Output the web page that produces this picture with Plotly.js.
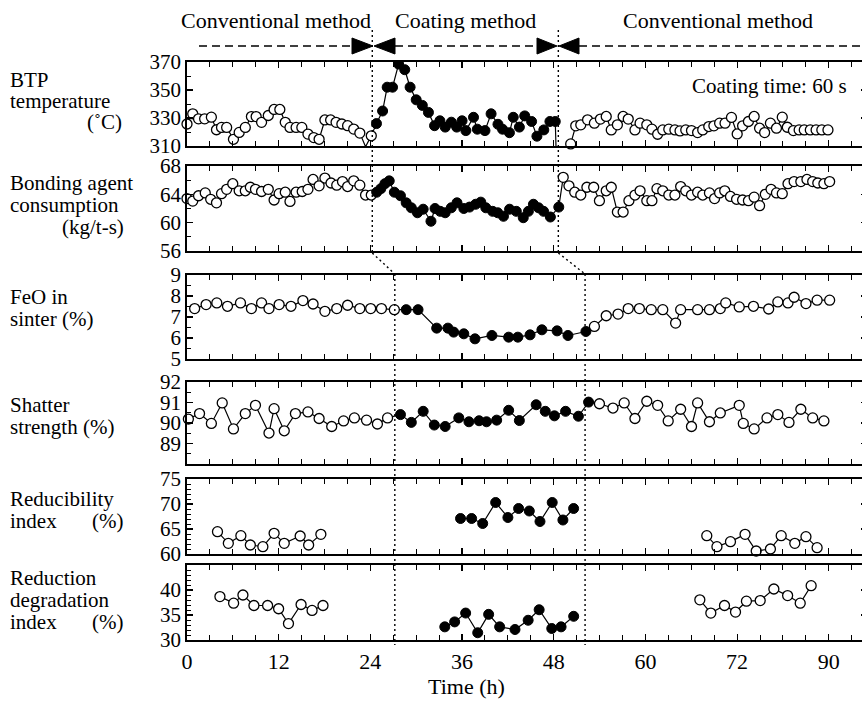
<!DOCTYPE html>
<html><head><meta charset="utf-8">
<script src="https://cdn.plot.ly/plotly-3.0.1.min.js"></script>
<style>html,body{margin:0;padding:0;overflow:hidden;background:#fff}#chart{width:870px;height:706px}</style>
</head><body><div id="chart"></div><script>
// ---------------- DATA ----------------
// BTP temperature (°C)
const btpT_A = [0,0.75,1.51,2.31,3.19,3.86,4.52,5.19,6.08,6.83,7.63,8.43,9.05,9.76,10.64,11.4,12.15,12.86,13.48,14.28,15.03,15.83,16.59,17.29,18.05,18.8,19.51,20.27,21.02,21.82,22.62,23.37,24.12];
const btpV_A = [325.7,333,329.4,329.4,330.6,321.6,323.3,323.3,314.8,319.7,323.3,331,331,326.9,331.8,336.1,336.1,326.9,323.3,323.3,323.3,318.5,316,314.8,328.6,328.6,326.9,325.7,324.5,322.1,319.2,309.5,317.3];
const btpT_C = [24.8,25.6,26.2,26.9,27.7,28.5,29.2,30.0,30.8,31.6,32.4,33.1,33.8,34.6,35.3,36.0,36.5,37.5,38.0,39.0,39.8,40.7,41.3,42.2,42.7,43.5,44.2,45.1,45.8,46.7,47.5,48.2,48.4];
const btpV_C = [326,335,352,352,368.5,364.5,352,343,339,334,324.5,328,323.5,327,323.5,328,321,330.5,322,321,333,325.5,322,319.5,330.5,323.5,331.5,327.5,317,321.5,327.5,327.5,290];
const btpT_B = [50.22,50.88,51.54,52.43,53.32,54.11,54.87,55.53,56.33,57.08,57.75,58.63,59.3,60.18,60.85,61.6,62.27,63.06,63.86,64.53,65.28,66.03,66.83,67.5,68.29,68.96,69.71,70.42,71.26,72.01,72.72,73.48,74.23,74.94,75.6,76.36,77.15,77.91,78.57,79.37,80.12,80.79,81.58,82.34,83.09,83.89];
const btpV_B = [311.5,324.4,325.1,328.7,326.3,329.2,331.1,321.5,325.1,331.1,329.2,321.5,326.3,325.1,322,318.4,321.5,322,321.5,320.8,321.5,321,319.6,321.5,323.9,324.4,326.3,326.3,330.4,318.6,324.4,327.5,331.1,322.7,319.6,326.3,322.7,330.6,323.4,321,321.5,321.5,321.5,321.5,321.5,321.5];

// Bonding agent consumption (kg/t-s)
const bndT_A = [0,0.75,1.51,2.39,3.1,3.86,4.52,5.19,5.99,6.83,7.63,8.29,8.96,9.76,10.64,11.4,12.06,12.86,13.48,14.28,15.08,15.83,16.5,17.29,18.05,18.85,19.6,20.35,21.02,21.82,22.62,23.37,24.12];
const bndV_A = [63.4,63.05,63.8,64.2,63.3,62.8,64.1,64.7,65.5,64.5,64.5,65.0,64.7,64.4,64.7,63.2,64.1,64.3,63.0,64.3,64.4,64.7,66.1,65.2,66.3,65.6,65.3,65.8,65.1,65.9,65.3,63.9,63.9];
const bndT_C = [24.83,25.37,25.9,26.47,27.14,27.94,28.69,29.36,30.16,30.91,31.93,32.46,33.13,33.79,34.59,35.34,36.23,36.98,37.78,38.45,39.11,40.0,40.67,41.42,42.22,43.1,44.01,44.68,45.34,46.01,46.67,47.56,48.66];
const bndV_C = [64.3,64.8,65.5,65.9,64.3,63.8,62.8,62.1,61.4,61.9,60.2,62.0,61.6,61.4,62.1,62.8,62.0,62.2,62.6,62.9,62.1,61.6,61.4,60.9,61.9,61.6,60.7,61.6,62.6,62.1,61.6,60.8,62.2];
const bndT_B = [49.24,49.99,50.75,51.54,52.34,53.23,53.98,54.87,55.53,56.33,57.08,57.84,58.63,59.3,60.18,60.85,61.51,62.27,63.06,63.86,64.61,65.28,66.03,66.83,67.5,68.38,69.05,69.71,70.38,71.13,71.93,72.72,73.48,74.23,74.94,75.69,76.44,77.15,77.91,78.66,79.46,80.34,81.14,81.89,82.56,83.36,84.11];
const bndV_B = [66.4,65.2,64.3,63.9,65.0,65.0,63.1,64.5,65.0,61.5,61.5,63.1,63.9,64.5,63.1,63.1,64.8,64.5,63.9,63.9,65.1,64.5,63.9,64.3,63.9,64.2,63.4,64.2,64.5,63.7,63.3,63.2,63.1,63.6,62.4,64.0,64.7,64.2,64.1,65.5,65.8,65.8,66.1,65.8,65.6,65.5,65.8];

// FeO in sinter (%)
const feoT_A = [1.0,2.5,3.9,5.3,7.0,8.43,9.76,10.73,12.06,13.61,15.17,16.5,18.05,19.6,21.02,22.62,24.04,25.45,27.14];
const feoV_A = [7.4,7.59,7.67,7.51,7.67,7.4,7.67,7.4,7.59,7.51,7.78,7.62,7.27,7.4,7.56,7.4,7.4,7.4,7.35];
const feoT_C = [28.69,30.24,32.68,34.15,34.9,36.23,37.69,39.91,42.1,43.3,44.9,46.45,48.44,49.86,52.21];
const feoV_C = [7.35,7.35,6.47,6.47,6.28,6.2,5.96,6.12,6.04,6.04,6.15,6.39,6.34,6.12,6.31];
const feoT_B = [53.32,54.87,56.42,57.75,59.21,60.76,62.27,63.95,64.61,66.83,68.38,69.8,70.51,72.28,74.14,76.13,77.33,78.66,79.46,81.01,82.47,84.11];
const feoV_B = [6.55,7.06,7.14,7.4,7.4,7.35,7.35,6.71,7.35,7.35,7.35,7.4,7.67,7.48,7.51,7.38,7.72,7.67,7.94,7.64,7.8,7.8];

// Shatter strength (%)
const shT_A = [0.18,1.64,3.19,4.61,6.08,7.63,8.96,10.73,11.4,12.73,14.19,15.83,17.29,18.94,20.49,21.91,23.5,24.92,26.25];
const shV_A = [90.19,90.46,89.98,90.98,89.71,90.46,90.86,89.51,90.7,89.62,90.46,90.54,90.22,89.83,90.1,90.25,90.14,89.95,90.25];
const shT_C = [27.94,29.36,30.91,32.37,33.79,35.57,36.9,38.23,39.2,40.53,42.1,43.5,45.7,46.89,48.09,49.55,51.23,52.56];
const shV_C = [90.41,90.03,90.57,89.9,89.83,90.25,90.06,90.11,90.06,90.14,90.62,90.12,90.89,90.57,90.35,90.57,90.33,91.02];
const shT_B = [53.98,55.75,57.22,58.63,60.18,61.6,62.98,64.61,66.03,66.83,68.38,69.8,72.28,72.81,74.23,75.91,77.33,78.79,80.34,81.89,83.36];
const shV_B = [90.94,90.73,90.98,90.22,91.06,90.86,90.1,90.67,89.83,90.98,90.06,90.49,90.86,89.98,89.71,90.25,90.41,90.03,90.67,90.25,90.1];

// Reducibility index (%)
const rdT_A = [3.99,5.41,7.05,8.29,9.93,11.4,12.73,14.81,15.92,17.52];
const rdV_A = [64.47,62.13,63.67,61.8,61.47,64.13,62.13,63.6,61.8,63.93];
const rdT_C = [35.8,37.25,38.7,40.4,42.0,43.4,44.8,46.2,47.8,49.2,50.6];
const rdV_C = [67.1,67.1,66.1,70.3,67.3,69.1,68.6,66.5,70.3,66.8,69.1];
const rdT_B = [68.03,69.36,71.13,73.04,74.5,76.36,77.77,79.55,81.01,82.47];
const rdV_B = [63.67,61.47,62.47,63.93,60.6,61.0,63.67,62.13,63.47,61.27];

// Reduction degradation index (%)
const rdiT_A = [4.31,6.1,7.32,8.76,10.55,11.99,13.28,14.93,16.37,17.8];
const rdiV_A = [38.68,37.37,39.0,36.9,36.9,36.25,33.29,37.1,35.92,36.9];
const rdiT_C = [33.74,35.03,36.47,38.05,39.48,40.92,42.93,44.65,46.09,47.74,48.96,50.61];
const rdiV_C = [32.63,33.62,35.39,31.45,35.13,32.63,32.1,33.95,36.05,32.3,32.63,34.74];
const rdiT_B = [67.12,68.56,70.35,71.79,73.22,75.02,76.81,78.61,80.26,81.69];
const rdiV_B = [38.03,35.39,36.9,35.59,37.76,37.89,40.2,38.88,37.37,40.86];

// axis tick labels
const xTickAlias = {'84':'90'};
const topLabels = ['Conventional method','Coating method','Conventional method'];

// ---------------- BUILD ----------------
const W = 870, H = 706, L = 187, R = 3;
const PW = W - L - R;
const px2x = p => (p - L) / PW;
const py2y = p => 1 - p / H;
const FONT = 'Liberation Serif';

const series = [
  {A:[btpT_A,btpV_A], C:[btpT_C,btpV_C], B:[btpT_B,btpV_B], join:true},
  {A:[bndT_A,bndV_A], C:[bndT_C,bndV_C], B:[bndT_B,bndV_B], join:true},
  {A:[feoT_A,feoV_A], C:[feoT_C,feoV_C], B:[feoT_B,feoV_B], join:true},
  {A:[shT_A,shV_A],  C:[shT_C,shV_C],  B:[shT_B,shV_B],  join:true},
  {A:[rdT_A,rdV_A],  C:[rdT_C,rdV_C],  B:[rdT_B,rdV_B],  join:false},
  {A:[rdiT_A,rdiV_A],C:[rdiT_C,rdiV_C],B:[rdiT_B,rdiV_B],join:false}
];
const yStyle = [
  {range:[310,370], tick0:310, dtick:20, minor:10, px:[62,146]},
  {range:[56,68], tick0:56, dtick:4, minor:2, px:[166,251]},
  {range:[5,9], tick0:5, dtick:1, minor:0.5, px:[275,359]},
  {range:[88,92], tickvals:[89,90,91,92], minor:0.5, px:[382,464]},
  {range:[60,75], tick0:60, dtick:5, minor:1, px:[479,554]},
  {range:[30,45], tickvals:[30,35,40], minor:1, px:[565,640]}
];

const traces = [];
const layout = {
  width: W, height: H, margin:{l:L, r:R, t:0, b:0},
  paper_bgcolor:'#fff', plot_bgcolor:'#fff', showlegend:false,
  font:{family:FONT, size:21, color:'#000'},
  annotations:[], shapes:[]
};

series.forEach((s,i)=>{
  const n = i ? String(i+1) : '';
  const xa = 'x'+n, ya = 'y'+n;
  const lx = s.join ? [...s.A[0], ...s.C[0], ...s.B[0]] : [...s.A[0], null, ...s.C[0], null, ...s.B[0]];
  const ly = s.join ? [...s.A[1], ...s.C[1], ...s.B[1]] : [...s.A[1], null, ...s.C[1], null, ...s.B[1]];
  traces.push({x:lx, y:ly, xaxis:xa, yaxis:ya, mode:'lines', line:{color:'#000', width:1.2}, connectgaps:false, hoverinfo:'skip'});
  [s.A, s.B].forEach(g=>traces.push({x:g[0], y:g[1], xaxis:xa, yaxis:ya, mode:'markers', cliponaxis:false,
    marker:{symbol:'circle', size:10, color:'#fff', line:{color:'#000', width:1.3}}}));
  traces.push({x:s.C[0], y:s.C[1], xaxis:xa, yaxis:ya, mode:'markers', cliponaxis:true,
    marker:{symbol:'circle', size:10, color:'#000', line:{color:'#000', width:1}}});

  const ys = yStyle[i];
  layout['xaxis'+n] = {
    domain:[0,1], range:[0,89], anchor:ya, showline:true, mirror:'allticks', linewidth:2.4, linecolor:'#000',
    ticks:'inside', ticklen:6, tickwidth:1.2, tickcolor:'#000', tick0:0, dtick:12,
    minor:{dtick:3, ticks:'inside', ticklen:5, tickwidth:1, tickcolor:'#000', showgrid:false},
    showgrid:false, zeroline:false, showticklabels: i===5, labelalias:xTickAlias,
    tickfont:{family:FONT, size:22, color:'#000'}, fixedrange:true
  };
  const yax = {
    domain:[py2y(ys.px[1]), py2y(ys.px[0])], range:ys.range, anchor:xa, showline:true, mirror:'allticks',
    linewidth:1.8, linecolor:'#000', ticks:'inside', ticklen:6, tickwidth:1.2, tickcolor:'#000',
    minor:{dtick:ys.minor, ticks:'inside', ticklen:4, tickwidth:1, tickcolor:'#000', showgrid:false},
    showgrid:false, zeroline:false, tickfont:{family:FONT, size:21, color:'#000'}, fixedrange:true
  };
  if (ys.tickvals) { yax.tickmode='array'; yax.tickvals=ys.tickvals; } else { yax.tick0=ys.tick0; yax.dtick=ys.dtick; }
  layout['yaxis'+n] = yax;
});

// text labels
function txt(t, x, y, anchor, size){
  layout.annotations.push({text:t, xref:'paper', yref:'paper', x:px2x(x), y:py2y(y), xanchor:anchor||'left', yanchor:'middle',
    showarrow:false, font:{family:FONT, size:size||21, color:'#000'}});
}
txt(topLabels[0], 276, 20, 'center', 22);
txt(topLabels[1], 465, 20, 'center', 22);
txt(topLabels[2], 718, 20, 'center', 22);
txt('Coating time: 60 s', 849, 86, 'right', 21);
txt('BTP', 8, 80); txt('temperature', 8, 101); txt('(˚C)', 124, 122, 'right');
txt('Bonding agent', 8, 183); txt('consumption', 8, 205); txt('(kg/t-s)', 126, 227, 'right');
txt('FeO in', 8, 297); txt('sinter (%)', 8, 319);
txt('Shatter', 8, 405); txt('strength (%)', 8, 427);
txt('Reducibility', 8, 499); txt('index', 8, 521); txt('(%)', 125, 521, 'right');
txt('Reduction', 8, 578); txt('degradation', 8, 600); txt('index', 8, 622); txt('(%)', 125, 622, 'right');
txt('Time (h)', 466, 686, 'center', 22);

// dashed arrows
const ay = py2y(46), ah = 8;
function seg(x0,x1){ layout.shapes.push({type:'line', xref:'paper', yref:'paper', x0:px2x(x0), x1:px2x(x1), y0:ay, y1:ay, line:{color:'#000', width:1.5, dash:'8px,5px'}}); }
function tri(base, tip){
  const path = `M ${px2x(base)} ${py2y(46-ah)} L ${px2x(base)} ${py2y(46+ah)} L ${px2x(tip)} ${ay} Z`;
  layout.shapes.push({type:'path', xref:'paper', yref:'paper', path:path, fillcolor:'#000', line:{color:'#000', width:1}});
}
seg(199,352); tri(352,373); tri(395,374); seg(395,537); tri(537,557); tri(579,559); seg(579,870);

// dotted phase boundaries
function dl(t0,t1,p0,p1){ layout.shapes.push({type:'line', xref:'x', yref:'paper', x0:t0, x1:t1, y0:py2y(p0), y1:py2y(p1), line:{color:'#000', width:1.4, dash:'2px,3px'}}); }
dl(24.25,24.25,30,253); dl(24.25,27.2,253,274); dl(27.2,27.2,274,645);
dl(48.6,48.6,30,253); dl(48.6,52.1,253,274); dl(52.1,52.1,274,645);

Plotly.newPlot('chart', traces, layout, {displayModeBar:false, staticPlot:true});
</script></body></html>
